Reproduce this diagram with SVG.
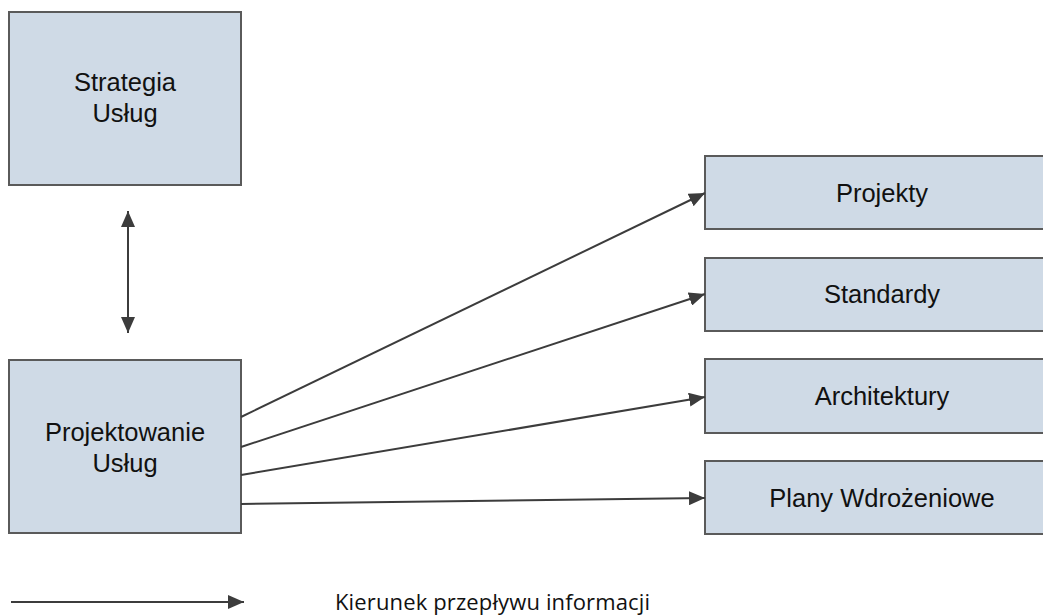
<svg xmlns="http://www.w3.org/2000/svg" width="1043" height="615" viewBox="0 0 1043 615">
<style>
.box{fill:#cfdae6;stroke:#5a5a5a;stroke-width:2}
.lbl{font-family:"Liberation Sans",Arial,sans-serif;font-size:25.5px;fill:#111;text-anchor:middle}
.con{stroke:#3c3c3c;stroke-width:2;fill:none}
.leg{font-family:"Open Sans","Noto Sans",sans-serif;font-size:22px;fill:#111}
</style>
<defs>
<marker id="ah" viewBox="0 0 16 14" refX="16" refY="7" markerWidth="16" markerHeight="14" markerUnits="userSpaceOnUse" orient="auto-start-reverse">
<path d="M0,0 L16,7 L0,14 Z" fill="#3c3c3c"/>
</marker>
</defs>
<rect width="1043" height="615" fill="#ffffff"/>
<g id="strategia">
<rect class="box" x="9" y="12" width="232" height="173"/>
<text class="lbl" x="125" y="91">Strategia</text>
<text class="lbl" x="125" y="122">Usług</text>
</g>
<g id="projektowanie">
<rect class="box" x="9" y="360" width="232" height="173"/>
<text class="lbl" x="125" y="441">Projektowanie</text>
<text class="lbl" x="125" y="472">Usług</text>
</g>
<g id="projekty">
<rect class="box" x="705" y="156" width="354" height="73"/>
<text class="lbl" x="882" y="202">Projekty</text>
</g>
<g id="standardy">
<rect class="box" x="705" y="258" width="354" height="73"/>
<text class="lbl" x="882" y="303">Standardy</text>
</g>
<g id="architektury">
<rect class="box" x="705" y="359" width="354" height="74"/>
<text class="lbl" x="882" y="405">Architektury</text>
</g>
<g id="plany">
<rect class="box" x="705" y="461" width="354" height="73"/>
<text class="lbl" x="882" y="507">Plany Wdrożeniowe</text>
</g>
<g id="connectors">
<line class="con" x1="128" y1="211" x2="128" y2="333" marker-start="url(#ah)" marker-end="url(#ah)"/>
<line class="con" x1="241" y1="417" x2="705" y2="193" marker-end="url(#ah)"/>
<line class="con" x1="241" y1="447" x2="705" y2="294" marker-end="url(#ah)"/>
<line class="con" x1="241" y1="475" x2="705" y2="397" marker-end="url(#ah)"/>
<line class="con" x1="241" y1="504" x2="705" y2="498" marker-end="url(#ah)"/>
</g>
<g id="legend">
<line class="con" x1="11" y1="602" x2="244" y2="602" marker-end="url(#ah)"/>
<text class="leg" x="335" y="610" textLength="315" lengthAdjust="spacing">Kierunek przepływu informacji</text>
</g>
</svg>
